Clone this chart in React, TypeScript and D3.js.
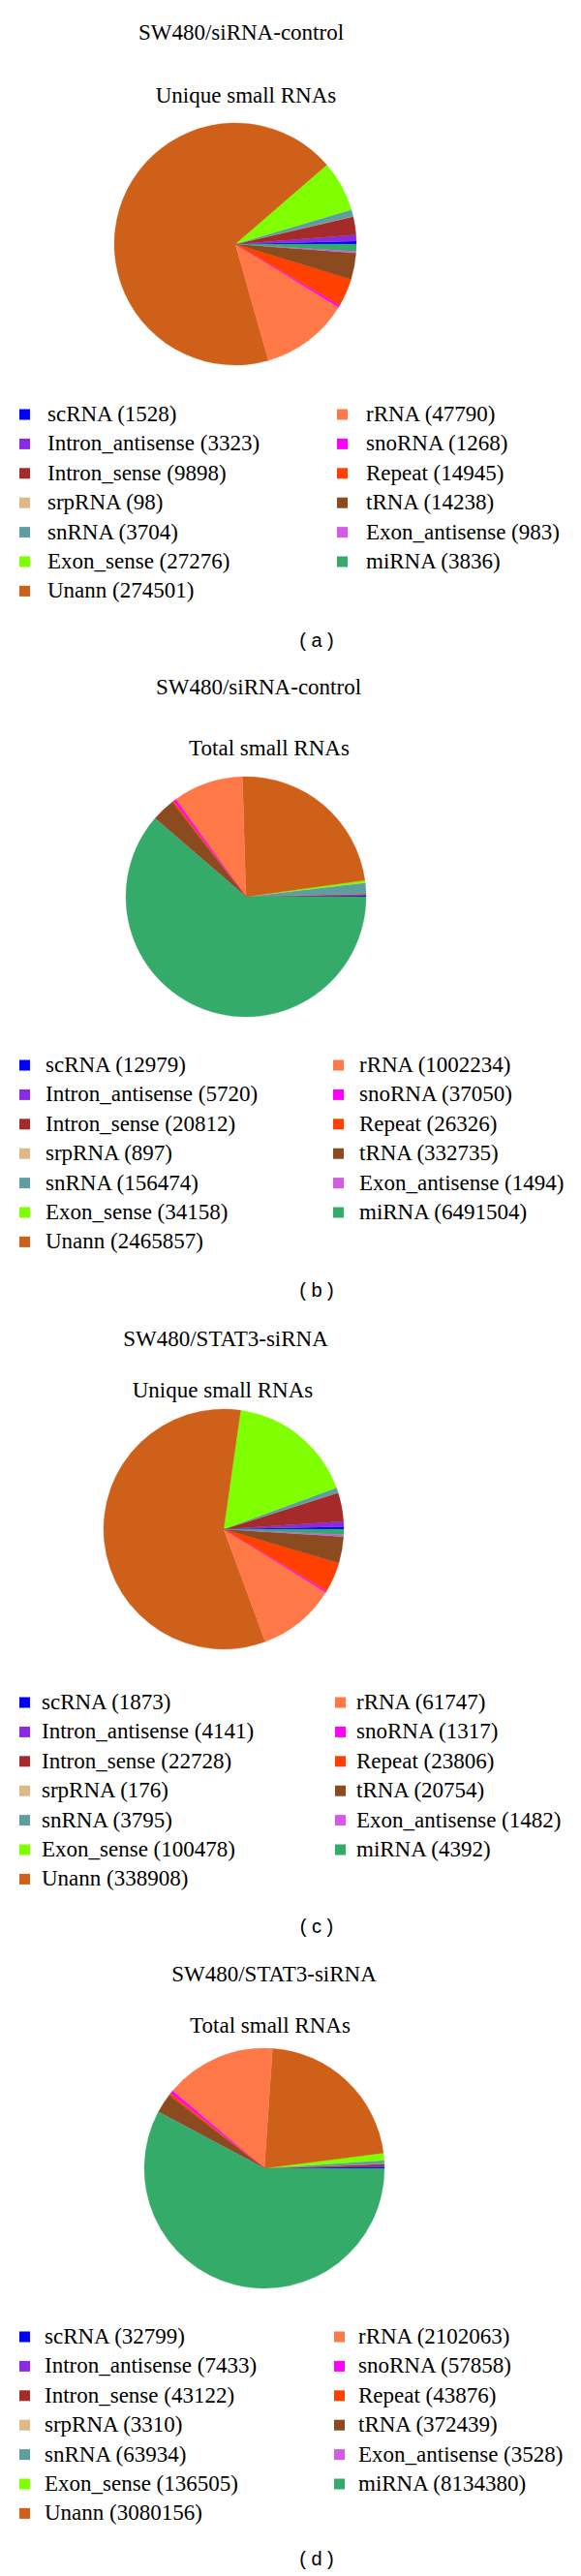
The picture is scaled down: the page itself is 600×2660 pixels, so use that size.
import * as d3 from "d3";

// categories in the order R draws them (counterclockwise from 3 o'clock)
const categories = [
  "scRNA",
  "Intron_antisense",
  "Intron_sense",
  "srpRNA",
  "snRNA",
  "Exon_sense",
  "Unann",
  "rRNA",
  "snoRNA",
  "Repeat",
  "tRNA",
  "Exon_antisense",
  "miRNA",
];

const colors = [
  "#0000FF",
  "#8A2BE2",
  "#A52A2A",
  "#DEB887",
  "#5F9EA0",
  "#7FFF00",
  "#CF601A",
  "#FF7848",
  "#FF00FF",
  "#FF4000",
  "#8B4B1E",
  "#D25CE6",
  "#34AB68",
];

const uniqueControl = [1528, 3323, 9898, 98, 3704, 27276, 274501, 47790, 1268, 14945, 14238, 983, 3836];
const totalControl = [12979, 5720, 20812, 897, 156474, 34158, 2465857, 1002234, 37050, 26326, 332735, 1494, 6491504];
const uniqueStat3 = [1873, 4141, 22728, 176, 3795, 100478, 338908, 61747, 1317, 23806, 20754, 1482, 4392];
const totalStat3 = [32799, 7433, 43122, 3310, 63934, 136505, 3080156, 2102063, 57858, 43876, 372439, 3528, 8134380];

const titles = ["SW480/siRNA-control", "SW480/siRNA-control", "SW480/STAT3-siRNA", "SW480/STAT3-siRNA"];
const subtitles = ["Unique small RNAs", "Total small RNAs", "Unique small RNAs", "Total small RNAs"];
const tags = ["( a )", "( b )", "( c )", "( d )"];
const series = [uniqueControl, totalControl, uniqueStat3, totalStat3];

// where each panel sits on the page
const layout = [
  { titleX: 249, titleY: 33, subX: 254, subY: 98, cx: 243, cy: 252, r: 125, legendY: 428, textX: 49, rightSqX: 348, rightTextX: 378, tagY: 662 },
  { titleX: 267, titleY: 709, subX: 278, subY: 772, cx: 254, cy: 926, r: 124, legendY: 1100, textX: 47, rightSqX: 344, rightTextX: 371, tagY: 1333 },
  { titleX: 233, titleY: 1382, subX: 230, subY: 1435, cx: 231, cy: 1579, r: 124, legendY: 1758, textX: 43, rightSqX: 346, rightTextX: 368, tagY: 1990 },
  { titleX: 283, titleY: 2038, subX: 279, subY: 2091, cx: 273, cy: 2239, r: 124, legendY: 2413, textX: 46, rightSqX: 345, rightTextX: 370, tagY: 2643 },
];

const serif = "'Liberation Serif', 'DejaVu Serif', serif";
const sans = "'Liberation Sans', Arial, sans-serif";

// R style: start at 3 o'clock and go counterclockwise
const pie = d3
  .pie<number>()
  .sort(null)
  .value((d) => d)
  .startAngle(Math.PI / 2)
  .endAngle(Math.PI / 2 - 2 * Math.PI);

const Panel = ({ idx }: { idx: number }) => {
  const L = layout[idx];
  const values = series[idx];
  const arc = d3.arc<d3.PieArcDatum<number>>().innerRadius(0).outerRadius(L.r);
  const arcs = pie(values);

  const perCol = 7;
  const rowY = d3.scaleLinear().domain([0, perCol - 1]).range([L.legendY, L.legendY + 6 * 30.4]);
  const sq = 11;

  return (
    <g>
      <text x={L.titleX} y={L.titleY + 7.5} textAnchor="middle" fontFamily={serif} fontSize={23}>
        {titles[idx]}
      </text>
      <text x={L.subX} y={L.subY + 7.5} textAnchor="middle" fontFamily={serif} fontSize={23}>
        {subtitles[idx]}
      </text>
      <g transform={`translate(${L.cx},${L.cy})`}>
        {arcs.map((a, i) => (
          <path key={i} d={arc(a) ?? ""} fill={colors[i]} stroke={colors[i]} strokeWidth={0.3} />
        ))}
      </g>
      {categories.map((c, i) => {
        const col = i < perCol ? 0 : 1;
        const row = col === 0 ? i : i - perCol;
        const y = rowY(row);
        const sqX = col === 0 ? 20 : L.rightSqX;
        const tX = col === 0 ? L.textX : L.rightTextX;
        return (
          <g key={c}>
            <rect x={sqX} y={y - sq / 2} width={sq} height={sq} fill={colors[i]} />
            <text x={tX} y={y + 7} fontFamily={serif} fontSize={23}>
              {`${c} (${values[i]})`}
            </text>
          </g>
        );
      })}
      <text x={327} y={L.tagY + 6} textAnchor="middle" fontFamily={sans} fontSize={20} xmlSpace="preserve">
        {tags[idx]}
      </text>
    </g>
  );
};

export default function App() {
  return (
    <svg
      width={600}
      height={2660}
      style={{ position: "absolute", top: 0, left: 0, background: "#fff" }}
    >
      {series.map((_, i) => (
        <Panel key={i} idx={i} />
      ))}
    </svg>
  );
}
